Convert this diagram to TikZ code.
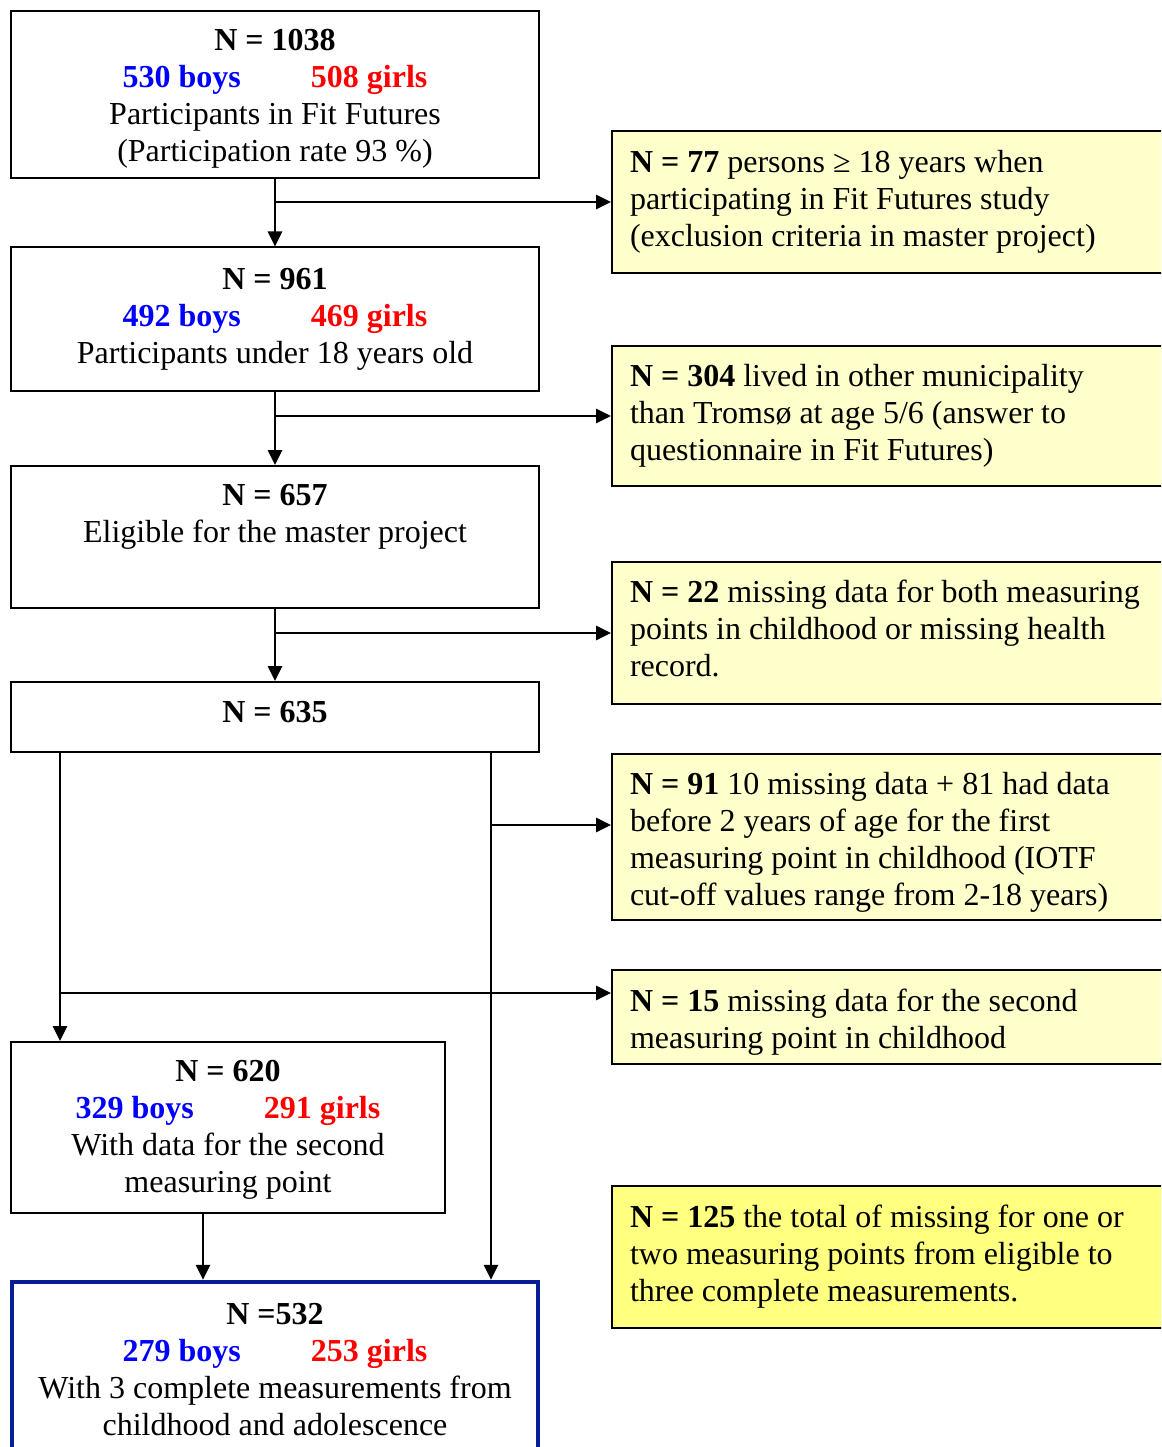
\documentclass[tikz,border=0pt]{standalone}
\usepackage{fontspec}
\setmainfont{Liberation Serif}
\usetikzlibrary{arrows.meta}
\definecolor{paleyellow}{RGB}{255,255,204}
\definecolor{brightyellow}{RGB}{255,255,128}
\definecolor{boxblue}{RGB}{8,30,150}
\definecolor{boyblue}{RGB}{0,0,255}
\definecolor{girlred}{RGB}{255,0,0}
\newcommand{\bg}[2]{\textbf{\textcolor{boyblue}{#1}\hspace*{70pt}\textcolor{girlred}{#2}}}
\begin{document}
\begin{tikzpicture}[x=1pt,y=-1pt,
  every node/.style={font=\fontsize{32pt}{37pt}\selectfont},
  mainbox/.style={draw=black,line width=2pt,fill=white,align=center,inner sep=0pt,minimum width=528pt},
  sidebox/.style={draw=black,line width=2pt,fill=paleyellow,align=flush left,text width=530pt,inner xsep=18pt,inner ysep=0pt},
  arr/.style={line width=2.8pt,-{Triangle[length=15pt,width=14pt]}}]
\useasboundingbox (0,0) rectangle (1161,1447);
\clip (0,0) rectangle (1161,1447);
% main column
\node[mainbox,minimum height=167pt] (b1) at (275,94.5) {\rule{0pt}{30pt}\textbf{N = 1038}\\\bg{530 boys}{508 girls}\\Participants in Fit Futures\\(Participation rate 93 \%)};
\node[mainbox,minimum height=143pt] (b2) at (275,319) {\textbf{N = 961}\\\bg{492 boys}{469 girls}\\Participants under 18 years old};
\node[mainbox,minimum height=142pt] (b3) at (275,537) {\textbf{N = 657}\\Eligible for the master project\\\strut};
\node[mainbox,minimum height=70pt] (b4) at (275,717) {\textbf{N = 635}\rule[-10pt]{0pt}{10pt}};
\node[mainbox,minimum height=171pt,minimum width=434pt] (b5) at (228,1127.5) {\rule{0pt}{26pt}\textbf{N = 620}\\\bg{329 boys}{291 girls}\\With data for the second\\measuring point};
\node[mainbox,draw=boxblue,line width=4.5pt,minimum height=176pt,minimum width=526pt] (b6) at (275,1370) {\textbf{N =532}\\\bg{279 boys}{253 girls}\\With 3 complete measurements from\\childhood and adolescence};
% side boxes
\node[sidebox,minimum height=142pt] (rA) at (895,202) {\textbf{N = 77} persons ≥ 18 years when\\participating in Fit Futures study\\(exclusion criteria in master project)};
\node[sidebox,minimum height=140pt] (rB) at (895,416) {\textbf{N = 304} lived in other municipality\\than Tromsø at age 5/6 (answer to\\questionnaire in Fit Futures)};
\node[sidebox,minimum height=142pt] (rC) at (895,633) {\textbf{N = 22} missing data for both measuring\\points in childhood or missing health\\record.\rule[-10pt]{0pt}{10pt}};
\node[sidebox,minimum height=166pt] (rD) at (895,837) {\rule{0pt}{32pt}\textbf{N = 91} 10 missing data + 81 had data\\before 2 years of age for the first\\measuring point in childhood (IOTF\\cut-off values range from 2-18 years)};
\node[sidebox,minimum height=94pt] (rE) at (895,1017) {\rule{0pt}{32pt}\textbf{N = 15} missing data for the second\\measuring point in childhood};
\node[sidebox,fill=brightyellow,minimum height=142pt] (rF) at (895,1257) {\textbf{N = 125} the total of missing for one or\\two measuring points from eligible to\\three complete measurements.};
% connectors
\draw[arr] (b1.south) -- (b2.north);
\draw[arr] (b1.south |- rA.west) -- (rA.west);
\draw[arr] (b2.south) -- (b3.north);
\draw[arr] (b2.south |- rB.west) -- (rB.west);
\draw[arr] (b3.south) -- (b4.north);
\draw[arr] (b3.south |- rC.west) -- (rC.west);
\coordinate (lx) at ([xshift=50pt]b4.south west);
\coordinate (rx) at ([xshift=-49pt]b4.south east);
\draw[arr] (lx) -- (lx |- b5.north);
\draw[arr] (rx) -- (rx |- b6.north);
\coordinate (jD) at (491,825);
\coordinate (jE) at (60,993);
\draw[arr] (jD) -- (jD -| rD.west);
\draw[arr] (jE) -- (jE -| rE.west);
\coordinate (dx) at ([xshift=-25pt]b5.south);
\draw[arr] (dx) -- (dx |- b6.north);
\end{tikzpicture}
\end{document}
